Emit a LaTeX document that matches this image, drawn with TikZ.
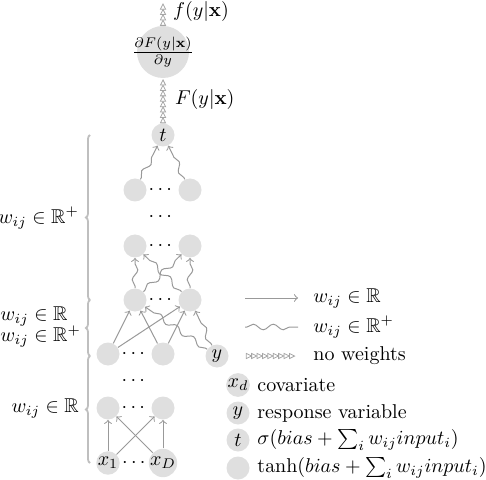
\documentclass[tikz,border=0pt]{standalone}
\usepackage{amsmath, amssymb}
\usepackage{xcolor}
\usepackage{tikz}
\usetikzlibrary{positioning, decorations.pathmorphing, decorations.pathreplacing, decorations.markings}

\begin{document}
\begin{tikzpicture}[x=0.5pt, y=-0.5pt,
    unit/.style={circle, fill=gray!25, minimum size=11.5pt, inner sep=0pt},
    bigunit/.style={circle, fill=gray!25, minimum size=26pt, inner sep=0pt},
    legendtext/.style={anchor=west, inner sep=1pt},
    weight/.style={draw=gray!80, line width=0.5pt, ->},
    wavy/.style={draw=gray!80, line width=0.5pt, ->, decorate, decoration={snake, amplitude=1.4pt, segment length=10pt, pre length=1pt, post length=2pt}},
    noweight/.style={postaction={decorate}, decoration={markings, mark=between positions 1.4pt and -1.4pt step 2.7pt with {\draw[gray!70, line width=0.4pt] (-1.3pt,-1.3pt) -- (1.3pt,0pt) -- (-1.3pt,1.3pt) -- cycle;}}},
    layerbrace/.style={draw=gray!50, line width=0.9pt, decorate, decoration={brace, amplitude=2pt}},
    dots/.style={inner sep=0pt}]

    \useasboundingbox (0,0) rectangle (486,480);

    % output part
    \node (dF) [bigunit, label={[inner sep=0pt]center:$\frac{\partial F(y|\mathbf{x})}{\partial y}$}] at (163,52) {};
    \node (t) [unit] at (163,135) {$t$};
    \coordinate (fout) at (163,2);
    \path [noweight] (dF) -- (fout);
    \path [noweight] (t) -- (dF);
    \node (flabel) [anchor=west] at (166,12) {$f(y|\mathbf{x})$};
    \node (Flabel) [anchor=west] at (168,100) {$F(y|\mathbf{x})$};

    % hidden layers
    \node (e1) [unit] at (135,190) {};
    \node (e2) [unit] at (190,190) {};
    \node (edots) [dots] at (162,190) {$\cdots$};
    \node (vdots1) [dots] at (162,217) {$\cdots$};
    \node (d1) [unit] at (135,246) {};
    \node (d2) [unit] at (190,246) {};
    \node (ddots) [dots] at (162,246) {$\cdots$};
    \node (c1) [unit] at (135,300) {};
    \node (c2) [unit] at (190,300) {};
    \node (cdots) [dots] at (162,300) {$\cdots$};
    \node (b1) [unit] at (108,354) {};
    \node (b2) [unit] at (163,354) {};
    \node (bdots) [dots] at (135,354) {$\cdots$};
    \node (y) [unit] at (217,356) {$y$};
    \node (vdots2) [dots] at (135,381) {$\cdots$};
    \node (a1) [unit] at (108,408) {};
    \node (a2) [unit] at (163,408) {};
    \node (adots) [dots] at (135,408) {$\cdots$};
    \node (x1) [unit] at (108,463) {$x_1$};
    \node (xD) [unit] at (163,463) {$x_D$};
    \node (xdots) [dots] at (135.5,463) {$\cdots$};

    % connections
    \draw [weight] (x1) -- (a1);
    \draw [weight] (x1) -- (a2);
    \draw [weight] (xD) -- (a1);
    \draw [weight] (xD) -- (a2);
    \draw [weight] (b1) -- (c1);
    \draw [weight] (b1) -- (c2);
    \draw [weight] (b2) -- (c1);
    \draw [weight] (b2) -- (c2);
    \draw [wavy] (y) -- (c1);
    \draw [wavy] (y) -- (c2);
    \draw [wavy] (c1) -- (d1);
    \draw [wavy] (c1) -- (d2);
    \draw [wavy] (c2) -- (d1);
    \draw [wavy] (c2) -- (d2);
    \draw [wavy] (e1) -- (t);
    \draw [wavy] (e2) -- (t);

    % braces
    \draw [layerbrace] (90,300) -- (90,135);
    \draw [layerbrace] (90,356) -- (90,300);
    \draw [layerbrace] (90,463) -- (90,356);
    \node (br1) [anchor=east] at (86,218) {$w_{ij}\in\mathbb{R}^+$};
    \node (br2) [anchor=east, align=left] at (88,327) {$w_{ij}\in\mathbb{R}$\\[-1.5pt]$w_{ij}\in\mathbb{R}^+$};
    \node (br3) [anchor=east] at (86,408) {$w_{ij}\in\mathbb{R}$};

    % legend
    \coordinate (lw1) at (245,298);
    \coordinate (lw2) at (298,298);
    \draw [weight] (lw1) -- (lw2);
    \node (lwtext) [legendtext] at (311,298) {$w_{ij}\in\mathbb{R}$};
    \coordinate (lp1) at (245,327);
    \coordinate (lp2) at (298,327);
    \draw [wavy, -] (lp1) -- (lp2);
    \node (lptext) [legendtext] at (311,327) {$w_{ij}\in\mathbb{R}^+$};
    \coordinate (ln1) at (246,356);
    \coordinate (ln2) at (296,356);
    \path [noweight] (ln1) -- (ln2);
    \node (lntext) [legendtext] at (311,356) {no weights};
    \node (lx) [unit] at (238,385) {$x_d$};
    \node (lxtext) [legendtext] at (255,385) {covariate};
    \node (ly) [unit] at (238,413) {$y$};
    \node (lytext) [legendtext] at (255,413) {response variable};
    \node (lt) [unit] at (238,440) {$t$};
    \node (lttext) [legendtext] at (255,440) {$\sigma(bias+\sum_i w_{ij}input_i)$};
    \node (lh) [unit] at (238,468) {};
    \node (lhtext) [legendtext] at (255,468) {$\tanh(bias+\sum_i w_{ij}input_i)$};
\end{tikzpicture}
\end{document}
